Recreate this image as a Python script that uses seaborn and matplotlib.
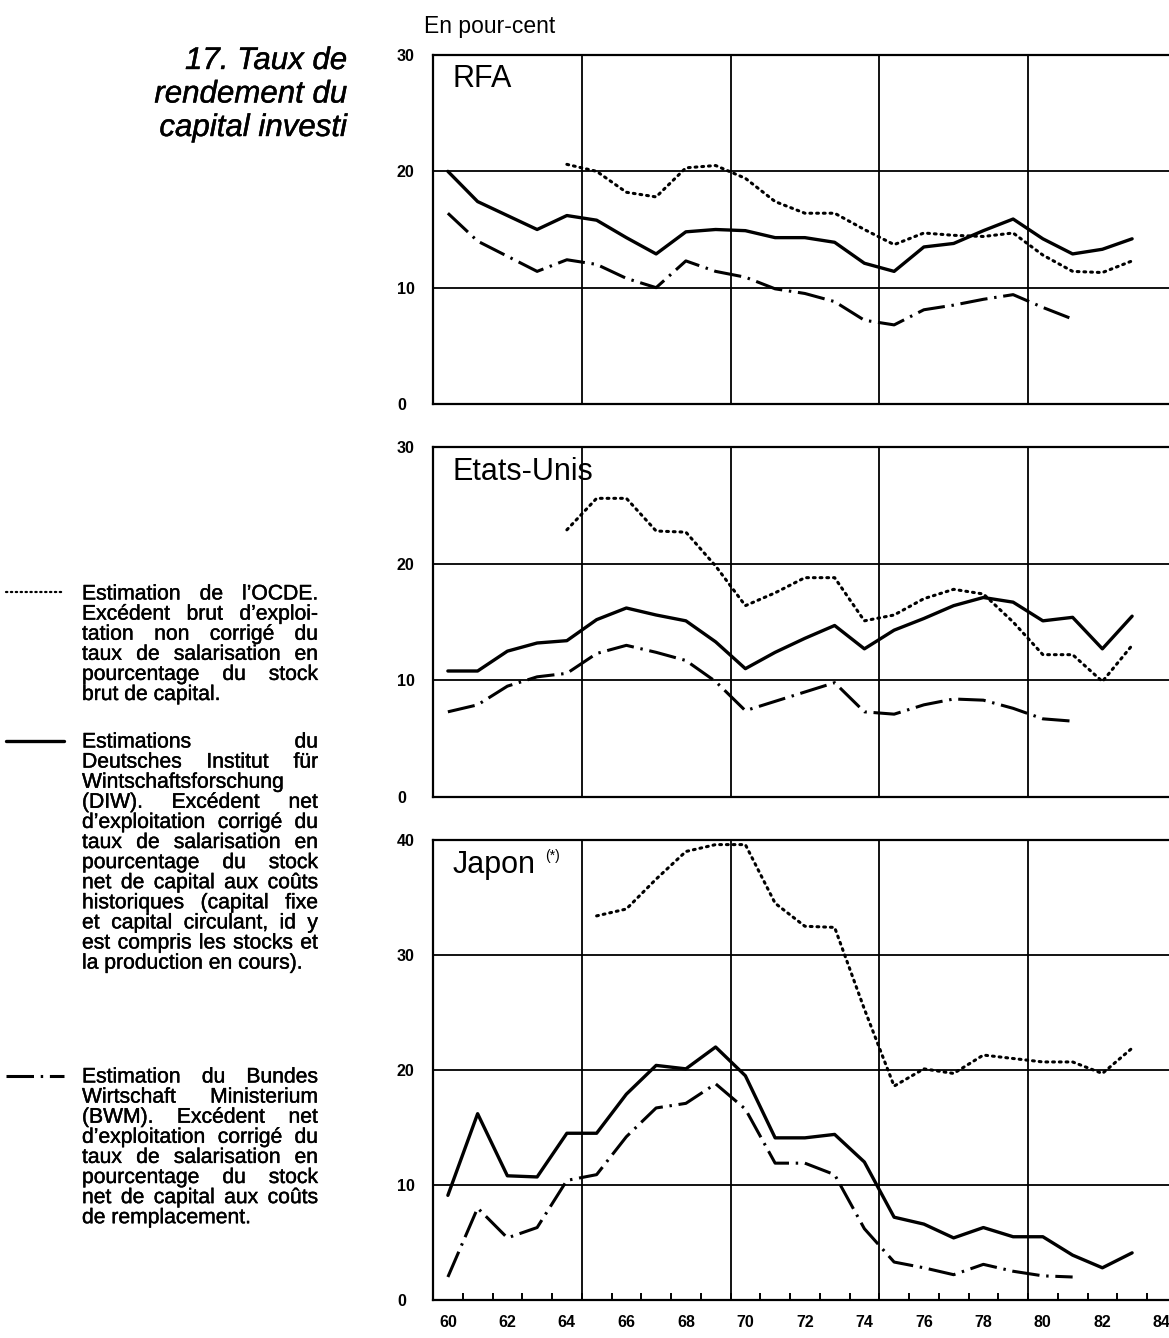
import numpy as np
import pandas as pd
import matplotlib
matplotlib.use("Agg")
import matplotlib.pyplot as plt
import matplotlib.patheffects as pe
import seaborn as sns

# ===============================================================
# DATA
# ===============================================================
years = list(range(1960, 1984))
nan = np.nan

# RFA
rfa_ocde = [nan, nan, nan, nan, 20.6, 20.0, 18.2, 17.8, 20.3, 20.5, 19.4, 17.4,
            16.4, 16.4, 15.0, 13.7, 14.7, 14.5, 14.4, 14.7, 12.8, 11.4, 11.3, 12.3]
rfa_diw = [20.0, 17.4, 16.2, 15.0, 16.2, 15.8, 14.3, 12.9, 14.8, 15.0, 14.9, 14.3,
           14.3, 13.9, 12.1, 11.4, 13.5, 13.8, 14.9, 15.9, 14.2, 12.9, 13.3, 14.2]
rfa_bwm = [16.4, 14.0, 12.7, 11.4, 12.4, 12.0, 10.8, 10.0, 12.3, 11.4, 10.9, 9.9,
           9.5, 8.8, 7.2, 6.8, 8.1, 8.5, 9.0, 9.4, 8.3, 7.3, nan, nan]

# Etats-Unis
us_ocde = [nan, nan, nan, nan, 22.9, 25.6, 25.6, 22.8, 22.7, 19.8, 16.4, 17.5,
           18.8, 18.8, 15.1, 15.6, 17.0, 17.8, 17.4, 15.0, 12.2, 12.2, 9.9, 13.0]
us_diw = [10.8, 10.8, 12.5, 13.2, 13.4, 15.2, 16.2, 15.6, 15.1, 13.3, 11.0, 12.4,
          13.6, 14.7, 12.7, 14.3, 15.3, 16.4, 17.1, 16.7, 15.1, 15.4, 12.7, 15.5]
us_bwm = [7.3, 7.9, 9.5, 10.3, 10.6, 12.3, 13.0, 12.4, 11.7, 9.9, 7.4, 8.2,
          9.0, 9.8, 7.3, 7.1, 7.9, 8.4, 8.3, 7.6, 6.7, 6.5, nan, nan]

# Japon
jp_ocde = [nan, nan, nan, nan, nan, 33.4, 34.0, 36.6, 39.0, 39.6, 39.6, 34.5,
           32.5, 32.4, 25.3, 18.6, 20.1, 19.7, 21.3, 21.0, 20.7, 20.7, 19.7, 21.9]
jp_diw = [9.1, 16.2, 10.8, 10.7, 14.5, 14.5, 17.9, 20.4, 20.1, 22.0, 19.5, 14.1,
          14.1, 14.4, 12.0, 7.2, 6.6, 5.4, 6.3, 5.5, 5.5, 3.9, 2.8, 4.1]
jp_bwm = [2.0, 8.0, 5.4, 6.3, 10.4, 10.9, 14.2, 16.7, 17.1, 18.8, 16.6, 11.9,
          11.9, 10.9, 6.2, 3.3, 2.8, 2.2, 3.1, 2.5, 2.1, 2.0, nan, nan]

panel_names = ["RFA", "Etats-Unis", "Japon"]
panel_ymax = [30, 30, 40]
xtick_years = list(range(1960, 1986, 2))
xtick_labels = [str(y)[2:] for y in xtick_years]

title_lines = ["17. Taux de", "rendement du", "capital investi"]

legend_paras = [
    ["Estimation de l\u2019OCDE.", "Excédent brut d\u2019exploi-", "tation non corrigé du",
     "taux de salarisation en", "pourcentage du stock", "brut de capital."],
    ["Estimations du", "Deutsches Institut für", "Wintschaftsforschung",
     "(DIW). Excédent net", "d\u2019exploitation corrigé du", "taux de salarisation en",
     "pourcentage du stock", "net de capital aux coûts", "historiques (capital fixe",
     "et capital circulant, id y", "est compris les stocks et", "la production en cours)."],
    ["Estimation du Bundes", "Wirtschaft Ministerium", "(BWM). Excédent net",
     "d\u2019exploitation corrigé du", "taux de salarisation en", "pourcentage du stock",
     "net de capital aux coûts", "de remplacement."],
]

# ===============================================================
# STYLE
# ===============================================================
sns.set_theme(style="white")
plt.rcParams["font.family"] = ["Liberation Sans", "DejaVu Sans"]
plt.rcParams["text.color"] = "black"
plt.rcParams["xtick.color"] = "black"
plt.rcParams["ytick.color"] = "black"
narrow = ["Liberation Sans Narrow", "Liberation Sans", "DejaVu Sans"]
heavy = [pe.withStroke(linewidth=0.3, foreground="black")]

styles = {
    "ocde": dict(linestyle=(0, (0.6, 1.6)), lw=2.2, dash_capstyle="round"),
    "diw": dict(linestyle="-", lw=2.4),
    "bwm": dict(linestyle=(0, (9, 2.2, 0.8, 2.2)), lw=2.2),
}

W, H = 1169, 1338
fig = plt.figure(figsize=(W / 100, H / 100), dpi=100)

# axes boxes in pixels: (top, bottom)
boxes = [(55, 404), (447, 797), (840, 1300)]
left_px = 433
x_left = 1959.5
px_per_year = 29.75
x_right = x_left + (W - left_px) / px_per_year

panel_data = [
    (rfa_ocde, rfa_diw, rfa_bwm),
    (us_ocde, us_diw, us_bwm),
    (jp_ocde, jp_diw, jp_bwm),
]

for k, (top, bot) in enumerate(boxes):
    ax = fig.add_axes([left_px / W, 1 - bot / H, (W - left_px) / W, (bot - top) / H])
    ocde, diw, bwm = panel_data[k]
    for key, vals in zip(["ocde", "diw", "bwm"], [ocde, diw, bwm]):
        df = pd.DataFrame({"year": years, "val": vals}).dropna()
        sns.lineplot(data=df, x="year", y="val", ax=ax, color="black",
                     estimator=None, **styles[key])

    ax.set_xlim(x_left, x_right)
    ax.set_ylim(0, panel_ymax[k])
    ax.set_xlabel("")
    ax.set_ylabel("")

    # grid lines
    for gx in [1964.5, 1969.5, 1974.5, 1979.5]:
        ax.axvline(gx, color="black", lw=1.3, zorder=0)
    for gy in range(10, panel_ymax[k], 10):
        ax.axhline(gy, color="black", lw=1.3, zorder=0)

    for side in ["left", "top", "bottom"]:
        ax.spines[side].set_visible(True)
        ax.spines[side].set_color("black")
        ax.spines[side].set_linewidth(1.6)
    ax.spines["right"].set_visible(False)

    ax.set_yticks(range(0, panel_ymax[k] + 1, 10))
    ax.tick_params(axis="y", length=0, pad=26)
    for lab in ax.get_yticklabels():
        lab.set_horizontalalignment("left")
        lab.set_family(narrow)
        lab.set_fontweight("bold")
        lab.set_fontsize(11.5)

    if k < 2:
        ax.set_xticks([])
    else:
        ax.set_xticks(xtick_years)
        ax.set_xticklabels(xtick_labels, family=narrow, fontweight="bold", fontsize=11.5)
        ax.tick_params(axis="x", which="major", length=0, pad=11)
        ax.set_xticks(np.arange(1960.5, 1984.5, 1.0), minor=True)
        ax.tick_params(axis="x", which="minor", direction="in", length=5,
                       width=1.4, color="black", bottom=True)

    ax.text(0.027, 0.93 if k < 2 else 0.945, panel_names[k], transform=ax.transAxes,
            fontsize=22, family=narrow, va="center", ha="left")
    if k == 2:
        ax.text(0.153, 0.965, "(*)", transform=ax.transAxes, fontsize=10,
                family=narrow, va="center", ha="left")

# ===============================================================
# TEXTS
# ===============================================================
fig.text(424 / W, 1 - 27 / H, "En pour-cent", fontsize=16.5, va="center", ha="left")

for i, line in enumerate(title_lines):
    fig.text(347 / W, 1 - (61 + 33.5 * i) / H, line, fontsize=22.5, style="italic",
             va="center", ha="right", path_effects=heavy)

# legend samples
sample_y = [592, 741, 1076]
for key, yy in zip(["ocde", "diw", "bwm"], sample_y):
    st = dict(styles[key])
    if key == "ocde":
        st["lw"] = 1.6
    fig.add_artist(plt.Line2D([6 / W, 64 / W], [1 - yy / H, 1 - yy / H],
                              color="black", transform=fig.transFigure, **st))

# justified legend paragraphs
renderer = fig.canvas.get_renderer()
x0, x1 = 82, 318
starts = [594, 742, 1077]
lh = 20.1
fs = 15.2
for para, y0 in zip(legend_paras, starts):
    for j, line in enumerate(para):
        yy = 1 - (y0 + lh * j) / H
        last = j == len(para) - 1
        if last:
            fig.text(x0 / W, yy, line, fontsize=fs, va="center", ha="left",
                     path_effects=heavy)
            continue
        words = line.split(" ")
        objs = [fig.text(0, yy, w, fontsize=fs, va="center", ha="left",
                         path_effects=heavy) for w in words]
        widths = [o.get_window_extent(renderer).width for o in objs]
        gap = (x1 - x0 - sum(widths)) / max(len(words) - 1, 1)
        xx = x0
        for o, w in zip(objs, widths):
            o.set_x(xx / W)
            xx += w + gap

fig.savefig("out.png", dpi=100)
